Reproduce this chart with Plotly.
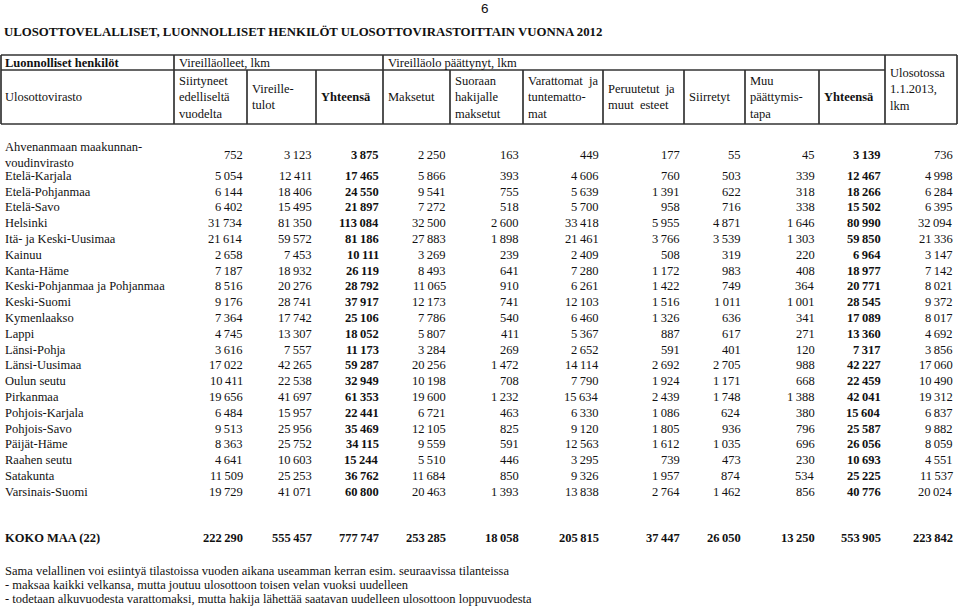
import plotly.graph_objects as go

# ---------------- data ----------------
page_number = "6"
title = "ULOSOTTOVELALLISET, LUONNOLLISET HENKILÖT ULOSOTTOVIRASTOITTAIN VUONNA 2012"

group_headers = ["Luonnolliset henkilöt", "Vireilläolleet, lkm", "Vireilläolo päättynyt, lkm"]
column_headers = [
    "Ulosottovirasto",
    "Siirtyneet<br>edelliseltä<br>vuodelta",
    "Vireille-<br>tulot",
    "Yhteensä",
    "Maksetut",
    "Suoraan<br>hakijalle<br>maksetut",
    "Varattomat\u00a0\u00a0ja<br>tuntematto-<br>mat",
    "Peruutetut\u00a0\u00a0ja<br>muut\u00a0\u00a0esteet",
    "Siirretyt",
    "Muu<br>päättymis-<br>tapa",
    "Yhteensä",
    "Ulosotossa<br>1.1.2013,<br>lkm",
]
bold_columns = [3, 10]

offices = [
    "Ahvenanmaan maakunnan-<br>voudinvirasto", "Etelä-Karjala", "Etelä-Pohjanmaa", "Etelä-Savo",
    "Helsinki", "Itä- ja Keski-Uusimaa", "Kainuu", "Kanta-Häme",
    "Keski-Pohjanmaa ja Pohjanmaa", "Keski-Suomi", "Kymenlaakso", "Lappi", "Länsi-Pohja",
    "Länsi-Uusimaa", "Oulun seutu", "Pirkanmaa", "Pohjois-Karjala", "Pohjois-Savo",
    "Päijät-Häme", "Raahen seutu", "Satakunta", "Varsinais-Suomi",
]
siirtyneet = [752, 5054, 6144, 6402, 31734, 21614, 2658, 7187, 8516, 9176, 7364, 4745, 3616,
              17022, 10411, 19656, 6484, 9513, 8363, 4641, 11509, 19729]
vireille_tulot = [3123, 12411, 18406, 15495, 81350, 59572, 7453, 18932, 20276, 28741, 17742,
                  13307, 7557, 42265, 22538, 41697, 15957, 25956, 25752, 10603, 25253, 41071]
yhteensa_vireilla = [3875, 17465, 24550, 21897, 113084, 81186, 10111, 26119, 28792, 37917,
                     25106, 18052, 11173, 59287, 32949, 61353, 22441, 35469, 34115, 15244,
                     36762, 60800]
maksetut = [2250, 5866, 9541, 7272, 32500, 27883, 3269, 8493, 11065, 12173, 7786, 5807, 3284,
            20256, 10198, 19600, 6721, 12105, 9559, 5510, 11684, 20463]
suoraan_maksetut = [163, 393, 755, 518, 2600, 1898, 239, 641, 910, 741, 540, 411, 269, 1472,
                    708, 1232, 463, 825, 591, 446, 850, 1393]
varattomat = [449, 4606, 5639, 5700, 33418, 21461, 2409, 7280, 6261, 12103, 6460, 5367, 2652,
              14114, 7790, 15634, 6330, 9120, 12563, 3295, 9326, 13838]
peruutetut = [177, 760, 1391, 958, 5955, 3766, 508, 1172, 1422, 1516, 1326, 887, 591, 2692,
              1924, 2439, 1086, 1805, 1612, 739, 1957, 2764]
siirretyt = [55, 503, 622, 716, 4871, 3539, 319, 983, 749, 1011, 636, 617, 401, 2705, 1171,
             1748, 624, 936, 1035, 473, 874, 1462]
muu_paattymistapa = [45, 339, 318, 338, 1646, 1303, 220, 408, 364, 1001, 341, 271, 120, 988,
                     668, 1388, 380, 796, 696, 230, 534, 856]
yhteensa_paattynyt = [3139, 12467, 18266, 15502, 80990, 59850, 6964, 18977, 20771, 28545,
                      17089, 13360, 7317, 42227, 22459, 42041, 15604, 25587, 26056, 10693,
                      25225, 40776]
ulosotossa = [736, 4998, 6284, 6395, 32094, 21336, 3147, 7142, 8021, 9372, 8017, 4692, 3856,
              17060, 10490, 19312, 6837, 9882, 8059, 4551, 11537, 20024]

total_label = "KOKO MAA (22)"
totals = [222290, 555457, 777747, 253285, 18058, 205815, 37447, 26050, 13250, 553905, 223842]

footnotes = [
    "Sama velallinen voi esiintyä tilastoissa vuoden aikana useamman kerran esim. seuraavissa tilanteissa",
    "- maksaa kaikki velkansa, mutta joutuu ulosottoon toisen velan vuoksi uudelleen",
    "- todetaan alkuvuodesta varattomaksi, mutta hakija lähettää saatavan uudelleen ulosottoon loppuvuodesta",
]

# ---------------- layout geometry ----------------
W, H = 960, 608
FONT = "Liberation Serif"
FS = 12.5
LINE = "#333333"
TXT = "#111111"
col_lines = [1, 174, 247, 316, 383, 450, 523, 603, 684, 745, 819, 885, 957]
y_top, y_mid, y_bot = 55, 70, 124
first_row_y = 154.5
row0_y = 175.8
row_step = 15.8
total_y = 538
foot_y = [570.5, 584.5, 599]

columns = [siirtyneet, vireille_tulot, yhteensa_vireilla, maksetut, suoraan_maksetut,
           varattomat, peruutetut, siirretyt, muu_paattymistapa, yhteensa_paattynyt, ulosotossa]


def fmt(v):
    return f"{v:,}".replace(",", "\u2009")


fig = go.Figure()
fig.add_trace(go.Scatter(x=[0, W], y=[0, H], mode="markers",
                         marker=dict(opacity=0), hoverinfo="skip", showlegend=False))

ann = []


def text(x, y, s, size=FS, bold=False, xanchor="left", family=FONT, align="left"):
    if bold:
        s = f"<b>{s}</b>"
    ann.append(dict(x=x, y=y, xref="x", yref="y", text=s, showarrow=False,
                    xanchor=xanchor, yanchor="middle", align=align,
                    font=dict(family=family, size=size, color=TXT)))


# page number and title
text(479, 8, page_number, size=13.5, family="Liberation Sans")
text(2, 31.5, title, size=12.8, bold=True)

shapes = []


def hline(x0, x1, y):
    shapes.append(dict(type="line", xref="x", yref="y", x0=x0, x1=x1, y0=y, y1=y,
                       line=dict(color=LINE, width=1.7)))


def vline(x, y0, y1):
    shapes.append(dict(type="line", xref="x", yref="y", x0=x, x1=x, y0=y0, y1=y1,
                       line=dict(color=LINE, width=1.7)))


hline(col_lines[0], col_lines[-1], y_top)
hline(col_lines[0], col_lines[-2], y_mid)
hline(col_lines[0], col_lines[-1], y_bot)
for x in col_lines:
    if x in (col_lines[0], col_lines[1], col_lines[4], col_lines[-2], col_lines[-1]):
        vline(x, y_top, y_bot)
    else:
        vline(x, y_mid, y_bot)

# group headers
text(col_lines[0] + 2, (y_top + y_mid) / 2, group_headers[0], bold=True)
text(col_lines[1] + 3, (y_top + y_mid) / 2, group_headers[1])
text(col_lines[4] + 3, (y_top + y_mid) / 2, group_headers[2])

# column headers
for j, h in enumerate(column_headers):
    if j == len(column_headers) - 1:
        text(col_lines[j] + 3, (y_top + y_bot) / 2, h)
    else:
        text(col_lines[j] + 3 if j else col_lines[0] + 2, (y_mid + y_bot) / 2, h,
             bold=(j in bold_columns))

# data rows
for i, name in enumerate(offices):
    y = first_row_y if i == 0 else row0_y + (i - 1) * row_step
    text(col_lines[0] + 2, y, name)
    for c, col in enumerate(columns):
        text(col_lines[c + 2] - 2.5, y, fmt(col[i]), bold=(c + 1 in bold_columns),
             xanchor="right")

# totals
text(col_lines[0] + 2, total_y, total_label, bold=True)
for c, v in enumerate(totals):
    text(col_lines[c + 2] - 2.5, total_y, fmt(v), bold=True, xanchor="right")

# footnotes
for k, f in enumerate(footnotes):
    text(col_lines[0] + 2, foot_y[k], f)

fig.update_layout(
    width=W, height=H, margin=dict(l=0, r=0, t=0, b=0),
    paper_bgcolor="white", plot_bgcolor="white",
    xaxis=dict(range=[0, W], visible=False, fixedrange=True),
    yaxis=dict(range=[H, 0], visible=False, fixedrange=True),
    annotations=ann, shapes=shapes, showlegend=False,
)
fig.write_html(
    "out.html",
    config={"displayModeBar": False},
    post_script="document.body.style.margin='0';document.body.style.overflow='hidden';",
)
